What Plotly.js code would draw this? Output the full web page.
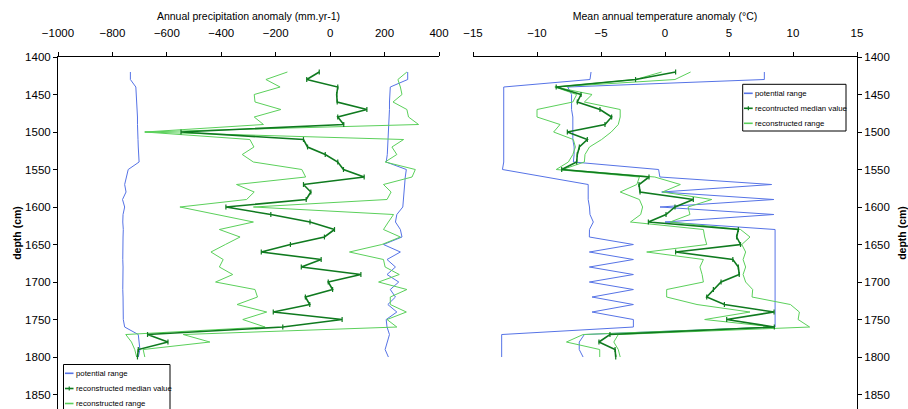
<!DOCTYPE html>
<html><head><meta charset="utf-8">
<script src="https://cdn.plot.ly/plotly-3.0.1.min.js"></script>
<style>html,body{margin:0;padding:0;background:#fff}#chart{width:908px;height:409px}</style>
</head><body><div id="chart"></div>
<script>
// ---- data ----
const depth = [1420,1430,1440,1450,1460,1470,1480,1490,1500,1510,1520,1530,1540,1550,1560,1570,1580,1590,1600,1610,1620,1630,1640,1650,1660,1670,1680,1690,1700,1710,1720,1730,1740,1750,1760,1770,1780,1790,1800];

// Annual precipitation anomaly (mm.yr-1)
const precipMedian = [-40,-86,28,24,26,135,28,50,-548,-98,-83,-18,28,49,125,-98,-71,-88,-383,-218,-74,16,-21,-146,-253,-33,-106,113,-7,9,-91,-75,-209,44,-174,-671,-596,-705,-708];
const precipRangeLow = [-157,-236,-184,-279,-276,-181,-279,-245,-681,-295,-280,-323,-282,-104,-90,-344,-279,-307,-552,-417,-282,-407,-331,-385,-438,-393,-407,-358,-421,-276,-267,-342,-233,-321,-239,-751,-730,-718,-711];
const precipRangeHigh = [282,249,258,264,231,282,288,325,-681,270,227,245,202,313,301,196,224,209,-282,233,214,196,258,190,71,196,202,254,178,282,221,221,280,209,245,-540,-442,-687,-681];
const precipPotLow = [-734,-734,-714,-712,-710,-710,-708,-708,-706,-706,-705,-704,-702,-742,-748,-755,-750,-763,-755,-761,-762,-760,-761,-762,-761,-762,-761,-762,-761,-762,-761,-761,-762,-760,-755,-705,-702,-699,-705];
const precipPotHigh = [285,285,221,219,218,218,217,216,215,214,213,210,206,280,276,274,272,270,267,245,240,258,264,196,258,209,240,209,252,221,240,212,245,206,209,218,210,202,214];

// Mean annual temperature anomaly (°C)
const tempMedian = [0.83,-2.3,-8.5,-6.56,-6.85,-5.08,-4.17,-4.69,-7.63,-6.07,-6.69,-6.85,-6.9,-8.07,-1.25,-2.03,-1.95,2.21,0.78,0.08,-1.3,5.73,5.6,5.9,0.83,5.3,5.73,5.8,4.38,3.78,3.26,4.64,8.52,4.82,8.54,-4.3,-5.16,-3.9,-3.85];
const tempRangeLow = [-0.26,-2.3,-8.6,-6.9,-7.2,-10.0,-10.0,-8.2,-8.7,-7.16,-7.0,-7.2,-7.55,-8.5,-2.0,-2.2,-3.5,-2.0,-1.75,-1.9,-2.7,3.0,3.1,3.26,-1.43,3.0,2.73,2.9,3.0,0.13,0.13,2.5,6.64,3.1,8.5,-6.4,-7.7,-5.1,-5.1];
const tempRangeHigh = [2.0,0.78,-8.6,-5.7,-6.3,-3.5,-3.5,-3.65,-4.2,-4.95,-5.9,-6.25,-6.3,-8.0,-0.8,1.2,-0.2,3.65,1.8,1.95,0.4,5.9,6.64,6.0,6.3,6.1,6.3,6.1,6.3,6.85,6.8,9.8,10.5,10.4,11.3,-3.65,-4.0,-3.65,-3.5];
const tempPotLow = [-5.78,-5.86,-12.6,-12.6,-12.6,-12.6,-12.6,-12.6,-12.6,-12.6,-12.6,-12.6,-12.6,-12.7,-9.3,-6.0,-6.0,-6.0,-5.9,-5.86,-5.6,-5.9,-5.91,-2.47,-5.91,-2.47,-5.91,-2.47,-5.91,-2.47,-5.7,-2.47,-5.7,-2.47,-2.47,-12.76,-12.76,-12.76,-12.76];
const tempPotHigh = [7.76,7.76,-7.6,-7.3,-7.3,-7.3,-7.2,-7.2,-7.2,-7.2,-7.1,-7.1,-7.16,-0.5,-0.4,8.33,-0.26,8.5,-0.39,8.5,0.0,8.6,8.6,8.6,8.55,8.6,8.6,8.55,8.6,8.6,8.55,8.6,8.6,8.6,8.6,-6.3,-6.7,-6.7,-6.4];

const precipTicks = [-1000,-800,-600,-400,-200,0,200,400];
const tempTicks = [-15,-10,-5,0,5,10,15];
const depthTicks = [1400,1450,1500,1550,1600,1650,1700,1750,1800,1850];

const legendLeftLabels = ['potential range','reconstructed median value','reconstructed range'];
const legendRightLabels = ['potential range','recontructed median value','reconstructed range'];

// ---- styling ----
const W = 908, H = 409, ML = 57, MR = 51, MT = 57, MB = 0;
const PW = W - ML - MR, PH = H - MT - MB;
const px = v => (v - ML) / PW;
const py = v => (H - MB - v) / PH;

const BLUE = '#5673e6', GREEN = '#5bd05b', DARK = '#0f7a1f';
const FONT = '"Liberation Sans", Arial, sans-serif';

function bounds(lo, hi) { return { x: lo.concat([null], hi), y: depth.concat([null], depth) }; }

const traces = [];
function addPanel(potLo, potHi, rLo, rHi, med, xa, ya, name) {
  const p = bounds(potLo, potHi), r = bounds(rLo, rHi);
  traces.push({ type: 'scatter', mode: 'lines', x: p.x, y: p.y, xaxis: xa, yaxis: ya, connectgaps: false,
    line: { color: BLUE, width: 1 }, name: 'potential range', showlegend: false, hoverinfo: 'skip' });
  traces.push({ type: 'scatter', mode: 'lines', x: r.x, y: r.y, xaxis: xa, yaxis: ya, connectgaps: false,
    line: { color: GREEN, width: 1 }, name: 'reconstructed range', showlegend: false, hoverinfo: 'skip' });
  traces.push({ type: 'scatter', mode: 'lines+markers', x: med, y: depth, xaxis: xa, yaxis: ya,
    line: { color: DARK, width: 1.6 }, marker: { symbol: 'line-ns', size: 3.5, color: DARK, line: { color: DARK, width: 1.2 } },
    name: name, showlegend: false, hoverinfo: 'skip' });
}
addPanel(precipPotLow, precipPotHigh, precipRangeLow, precipRangeHigh, precipMedian, 'x', 'y', 'reconstructed median value');
addPanel(tempPotLow, tempPotHigh, tempRangeLow, tempRangeHigh, tempMedian, 'x2', 'y2', 'recontructed median value');

const tickFont = { family: FONT, size: 11.5, color: '#000' };
const titleFont = { family: FONT, size: 10.5, color: '#000' };
const depthTitleFont = { family: FONT, size: 10.5, color: '#000', weight: 'bold' };

const xCommon = { side: 'top', ticks: 'outside', ticklen: 4, tickcolor: '#000', tickwidth: 1, showline: true,
  linecolor: '#000', linewidth: 1, showgrid: false, zeroline: false, tickfont: tickFont, ticklabelstandoff: 10 };
const yCommon = { range: [1869.3, 1400], tickmode: 'array', tickvals: depthTicks, ticks: 'outside', ticklen: 4,
  tickcolor: '#000', tickwidth: 1, showline: true, linecolor: '#000', linewidth: 1, showgrid: false, zeroline: false,
  tickfont: tickFont, domain: [0, 1] };

// ---- custom legends (shapes + text) ----
const shapes = [], annotations = [];
function legend(x0, x1, y0, y1, rows, lineX0, lineX1, textX, labels) {
  shapes.push({ type: 'rect', xref: 'paper', yref: 'paper', x0: px(x0), x1: px(x1), y0: py(y1), y1: py(y0),
    line: { color: '#000', width: 1 }, fillcolor: '#fff', layer: 'above' });
  const cols = [BLUE, DARK, GREEN];
  rows.forEach((ry, i) => {
    shapes.push({ type: 'line', xref: 'paper', yref: 'paper', x0: px(lineX0), x1: px(lineX1), y0: py(ry), y1: py(ry),
      line: { color: cols[i], width: 1.6 }, layer: 'above' });
    if (i === 1) {
      const cx = (lineX0 + lineX1) / 2;
      shapes.push({ type: 'line', xref: 'paper', yref: 'paper', x0: px(cx), x1: px(cx), y0: py(ry - 2), y1: py(ry + 2),
        line: { color: DARK, width: 1.2 }, layer: 'above' });
    }
    annotations.push({ xref: 'paper', yref: 'paper', x: px(textX), y: py(ry), xanchor: 'left', yanchor: 'middle',
      text: labels[i], showarrow: false, font: { family: FONT, size: 7.8, color: '#000' } });
  });
}
legend(63.5, 170, 364.5, 420, [373.3, 388.5, 403.5], 65, 73.5, 74, legendLeftLabels);
legend(742.7, 846, 84.3, 131, [93.3, 108.3, 123.3], 744, 752.7, 752.5, legendRightLabels);

const layout = {
  width: W, height: H,
  margin: { l: ML, r: MR, t: MT, b: MB, pad: 0 },
  paper_bgcolor: '#fff', plot_bgcolor: '#fff',
  showlegend: false,
  font: { family: FONT, color: '#000' },
  xaxis: Object.assign({}, xCommon, { domain: [px(58), px(439)], anchor: 'y', range: [-1000, 400],
    tickmode: 'array', tickvals: precipTicks,
    title: { text: 'Annual precipitation anomaly (mm.yr-1)', font: titleFont, standoff: 4 } }),
  yaxis: Object.assign({}, yCommon, { anchor: 'x', side: 'left',
    title: { text: 'depth (cm)', font: depthTitleFont, standoff: 1 } }),
  xaxis2: Object.assign({}, xCommon, { domain: [px(473), 1], anchor: 'y2', range: [-15, 15],
    tickmode: 'array', tickvals: tempTicks,
    title: { text: 'Mean annual temperature anomaly (°C)', font: titleFont, standoff: 4 } }),
  yaxis2: Object.assign({}, yCommon, { anchor: 'x2', side: 'right',
    title: { text: 'depth (cm)', font: depthTitleFont, standoff: 11 } }),
  shapes: shapes,
  annotations: annotations
};

Plotly.newPlot('chart', traces, layout, { displayModeBar: false, staticPlot: true });
</script>
</body></html>
